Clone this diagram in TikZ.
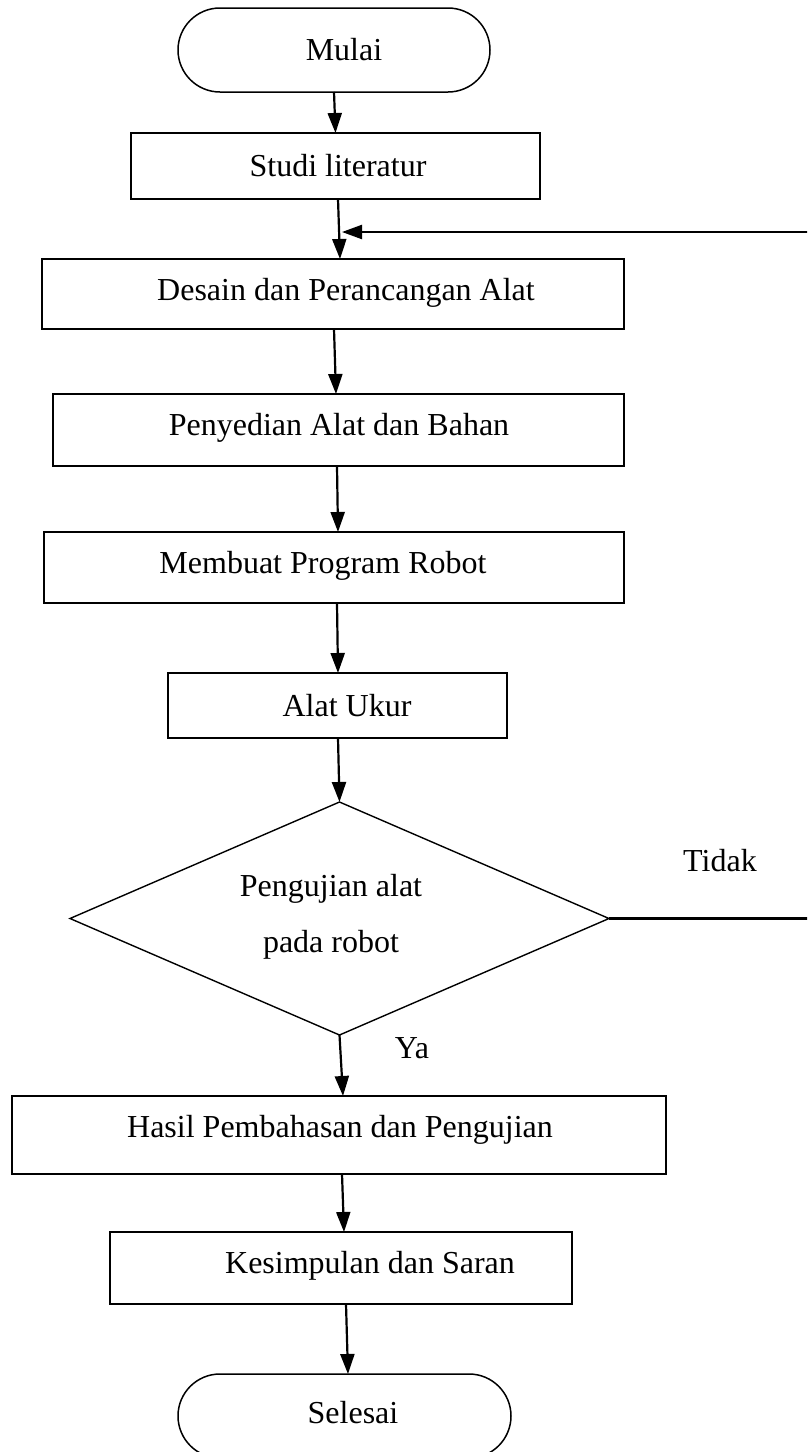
\documentclass[tikz,border=0pt]{standalone}
\usepackage{fontspec}
\setmainfont{Liberation Serif}
\usetikzlibrary{arrows.meta,shapes.geometric}
\begin{document}
\begin{tikzpicture}[x=1pt,y=-1pt,
  every node/.style={outer sep=0pt, inner sep=0pt},
  txt/.style={font=\fontsize{32}{38}\selectfont, text=black},
  box/.style={draw, line width=1.6pt, rectangle},
  term/.style={draw, line width=1.5pt, rectangle, rounded corners=42pt},
  decision/.style={draw, line width=1.4pt, diamond},
  flow/.style={draw, line width=2.2pt, -{Triangle[length=20pt,width=14pt]}}
]
\useasboundingbox (0,0) rectangle (807,1452);
\clip (0,0) rectangle (807,1452);

\node[term, minimum width=312pt, minimum height=84pt, label={[txt,xshift=10pt]center:Mulai}] (mulai) at (334,50) {};
\node[box, minimum width=409pt, minimum height=66pt, label={[txt,xshift=2.5pt]center:Studi literatur}] (studi) at (335.5,166) {};
\node[box, minimum width=582pt, minimum height=70pt, label={[txt,xshift=13pt,yshift=1pt]center:Desain dan Perancangan Alat}] (desain) at (333,294) {};
\node[box, minimum width=571pt, minimum height=72pt, label={[txt,xshift=0.5pt,yshift=2pt]center:Penyedian Alat dan Bahan}] (penyedian) at (338.5,430) {};
\node[box, minimum width=580pt, minimum height=71pt, label={[txt,xshift=-11pt,yshift=1.5pt]center:Membuat Program Robot}] (membuat) at (334,567.5) {};
\node[box, minimum width=339pt, minimum height=65pt, label={[txt,xshift=9.5pt]center:Alat Ukur}] (alat) at (337.5,705.5) {};
\node[decision, minimum width=539pt, minimum height=233pt, label={[txt,align=center,font=\fontsize{32}{56}\selectfont,xshift=-8.5pt,yshift=1.5pt]center:Pengujian alat\\pada robot}] (uji) at (339.5,918.5) {};
\node[box, minimum width=654pt, minimum height=78pt, label={[txt,xshift=1pt,yshift=5.5pt]center:Hasil Pembahasan dan Pengujian}] (hasil) at (339,1135) {};
\node[box, minimum width=462pt, minimum height=72pt, label={[txt,xshift=29pt,yshift=2pt]center:Kesimpulan dan Saran}] (kes) at (341,1268) {};
\node[term, minimum width=333pt, minimum height=84pt, label={[txt,xshift=8.5pt,yshift=3pt]center:Selesai}] (selesai) at (344.5,1416) {};
\node[txt] (tidak) at (720,861) {Tidak};
\node[txt] (ya) at (412,1048) {Ya};

\coordinate (fbR) at (812,918.5);
\coordinate (fbT) at (812,232);
\coordinate (fbE) at (342,232);

\draw[flow] (mulai.south) -- (studi.north);
\draw[flow] ([xshift=2.5pt]studi.south) -- ([xshift=7pt]desain.north);
\draw[flow] ([xshift=1pt]desain.south) -- ([xshift=-2.5pt]penyedian.north);
\draw[flow] ([xshift=-1.5pt]penyedian.south) -- ([xshift=4pt]membuat.north);
\draw[flow] ([xshift=3pt]membuat.south) -- ([xshift=0.5pt]alat.north);
\draw[flow] ([xshift=0.5pt]alat.south) -- (uji.north);
\draw[flow] (uji.south) -- ([xshift=4pt]hasil.north);
\draw[flow] ([xshift=3pt]hasil.south) -- ([xshift=3pt]kes.north);
\draw[flow] ([xshift=5pt]kes.south) -- ([xshift=3.5pt]selesai.north);
\draw[flow] (uji.east) -- (fbR) -- (fbT) -- (fbE);
\end{tikzpicture}
\end{document}
